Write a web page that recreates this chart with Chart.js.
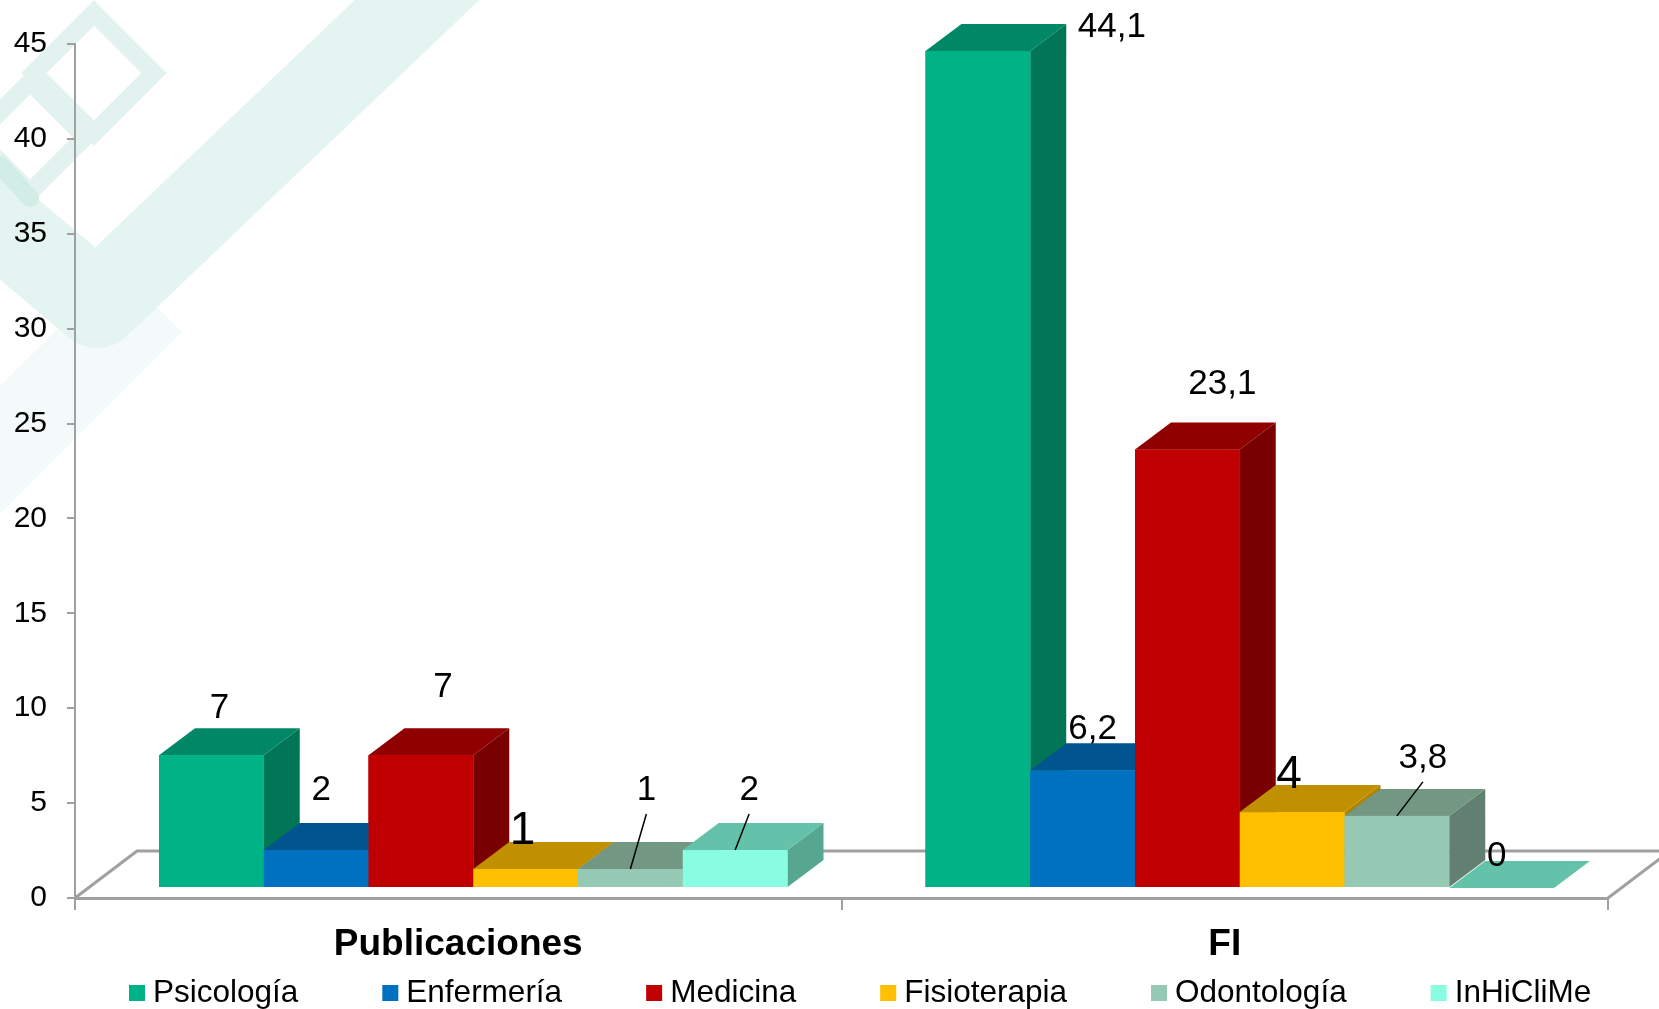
<!DOCTYPE html>
<html>
<head>
<meta charset="utf-8">
<script src="https://cdn.jsdelivr.net/npm/chart.js@4.4.1/dist/chart.umd.min.js"></script>
<style>
  html, body { margin: 0; padding: 0; background: #fff; }
  canvas { display: block; }
</style>
</head>
<body>
<canvas id="chart" width="1659" height="1009"></canvas>
<script>
const categories = ["Publicaciones", "FI"];
const seriesNames = ["Psicología", "Enfermería", "Medicina", "Fisioterapia", "Odontología", "InHiCliMe"];
const psicologia = [7, 44.1];
const enfermeria = [2, 6.2];
const medicina = [7, 23.1];
const fisioterapia = [1, 4];
const odontologia = [1, 3.8];
const inhiclime = [2, 0];
const yMin = 0, yMax = 45, yStep = 5;

const seriesValues = [psicologia, enfermeria, medicina, fisioterapia, odontologia, inhiclime];

// front / top / side colours of each 3D column
const frontColors = ["#00B386", "#0070C0", "#C00000", "#FFC000", "#96C9B3", "#88FDE1"];
const topColors   = ["#008866", "#00558F", "#900000", "#C09000", "#729884", "#64C2AA"];
const sideColors  = ["#007656", "#004A7E", "#780000", "#B08400", "#628071", "#56A690"];

const FONT = '"Liberation Sans", Arial, sans-serif';
const DEPTH = { x: 36, y: -27 };     // column depth
const FLOOR = { x: 62, y: -47 };     // floor depth
const SHIFT = { x: 15, y: -10 };     // columns sit a bit behind the front edge

// manual label placement relative to the back edge of each column top
const labelNudge = [
  [[-10, -20], [116, 3]],
  [[-13, -33], [-8, -14]],
  [[4, -41], [17, -38]],
  [[-21, -11], [-21, -10]],
  [[-2, -52], [8, -31]],
  [[-4, -33], [-23, -5]]
];
const labelLeader = [
  [false, false], [false, false], [false, false],
  [false, false], [true, true], [true, false]
];
const labelSize = [35, 35, 35, 46, 35, 35];

const fmt = v => String(v).replace(".", ",");

const decoration = {
  id: "decoration",
  beforeDraw(chart) {
    const ctx = chart.ctx;
    ctx.save();
    ctx.fillStyle = "#fff";
    ctx.fillRect(0, 0, chart.width, chart.height);
    // faint band lower left
    ctx.lineCap = "butt";
    ctx.strokeStyle = "rgba(0,150,120,0.045)";
    ctx.lineWidth = 90;
    ctx.beginPath();
    ctx.moveTo(150, 300);
    ctx.lineTo(-70, 520);
    ctx.stroke();
    // check mark
    ctx.lineCap = "round";
    ctx.lineJoin = "round";
    ctx.lineWidth = 86;
    ctx.strokeStyle = "#E4F4F0";
    ctx.beginPath();
    ctx.moveTo(-70, 165);
    ctx.lineTo(97, 305);
    ctx.lineTo(480, -60);
    ctx.stroke();
    // diamonds
    ctx.lineCap = "butt";
    ctx.lineJoin = "miter";
    ctx.lineWidth = 18;
    ctx.strokeStyle = "#E2F3EF";
    [[94, 73, 60], [30, 137, 55]].forEach(([cx, cy, r]) => {
      ctx.beginPath();
      ctx.moveTo(cx, cy - r);
      ctx.lineTo(cx + r, cy);
      ctx.lineTo(cx, cy + r);
      ctx.lineTo(cx - r, cy);
      ctx.closePath();
      ctx.stroke();
    });
    ctx.strokeStyle = "#D2EDE6";
    ctx.lineCap = "round";
    ctx.beginPath();
    ctx.moveTo(0, 165);
    ctx.lineTo(30, 198);
    ctx.stroke();
    ctx.restore();
  }
};

const bars3d = {
  id: "bars3d",
  beforeDatasetsDraw(chart) {
    const { ctx, chartArea } = chart;
    const y0 = chart.scales.y.getPixelForValue(0);
    const l = chartArea.left, r = chartArea.right;
    ctx.save();
    ctx.strokeStyle = "#A0A0A0";
    ctx.lineWidth = 3;
    ctx.beginPath();
    ctx.moveTo(l, y0);
    ctx.lineTo(l + FLOOR.x, y0 + FLOOR.y);
    ctx.lineTo(r + FLOOR.x, y0 + FLOOR.y);
    ctx.moveTo(r, y0);
    ctx.lineTo(r + FLOOR.x, y0 + FLOOR.y);
    ctx.stroke();
    ctx.restore();
    ctx.save();
    ctx.translate(SHIFT.x, SHIFT.y);
  },
  afterDatasetsDraw(chart) {
    const ctx = chart.ctx;
    categories.forEach((c, j) => {
      chart.data.datasets.forEach((ds, i) => {
        const el = chart.getDatasetMeta(i).data[j];
        const left = el.x - el.width / 2, right = el.x + el.width / 2;
        const top = Math.min(el.y, el.base), base = Math.max(el.y, el.base);
        if (base - top > 0.5) {
          ctx.fillStyle = sideColors[i];
          ctx.beginPath();
          ctx.moveTo(right, top);
          ctx.lineTo(right + DEPTH.x, top + DEPTH.y);
          ctx.lineTo(right + DEPTH.x, base + DEPTH.y);
          ctx.lineTo(right, base);
          ctx.closePath();
          ctx.fill();
        }
        ctx.fillStyle = topColors[i];
        ctx.beginPath();
        ctx.moveTo(left, top);
        ctx.lineTo(left + DEPTH.x, top + DEPTH.y);
        ctx.lineTo(right + DEPTH.x, top + DEPTH.y);
        ctx.lineTo(right, top);
        ctx.closePath();
        ctx.fill();
        ctx.fillStyle = frontColors[i];
        ctx.fillRect(left, top, right - left, base - top);
      });
    });
    ctx.restore();
  },
  afterDraw(chart) {
    const ctx = chart.ctx;
    ctx.save();
    ctx.fillStyle = "#000";
    ctx.strokeStyle = "#000";
    ctx.lineWidth = 1.5;
    ctx.textAlign = "center";
    ctx.textBaseline = "middle";
    chart.data.datasets.forEach((ds, i) => {
      chart.getDatasetMeta(i).data.forEach((el, j) => {
        const cx = el.x + SHIFT.x;
        const top = Math.min(el.y, el.base) + SHIFT.y;
        const ax = cx + DEPTH.x / 2, ay = top + DEPTH.y;
        const lx = ax + labelNudge[i][j][0], ly = ay + labelNudge[i][j][1];
        ctx.font = labelSize[i] + "px " + FONT;
        ctx.fillText(fmt(ds.data[j]), lx, ly);
        if (labelLeader[i][j]) {
          ctx.beginPath();
          ctx.moveTo(lx, ly + 24);
          ctx.lineTo(cx, top);
          ctx.stroke();
        }
      });
    });
    // legend
    ctx.font = "31.5px " + FONT;
    ctx.textAlign = "left";
    let x = 129;
    const y = 993;
    chart.data.datasets.forEach((ds, i) => {
      ctx.fillStyle = frontColors[i];
      ctx.fillRect(x, y - 8, 16, 16);
      ctx.fillStyle = "#000";
      ctx.fillText(ds.label, x + 24, y);
      x += 16 + 8 + ctx.measureText(ds.label).width + 84;
    });
    ctx.restore();
  }
};

const datasets = seriesNames.map((name, i) => ({
  label: name,
  data: seriesValues[i],
  backgroundColor: frontColors[i],
  borderWidth: 0,
  categoryPercentage: 0.82,
  barPercentage: 1,
  clip: false
}));

new Chart(document.getElementById("chart"), {
  type: "bar",
  data: { labels: categories, datasets },
  options: {
    responsive: false,
    animation: false,
    devicePixelRatio: 1,
    layout: { padding: { top: 44, right: 51, bottom: 0, left: 0 } },
    plugins: { legend: { display: false }, tooltip: { enabled: false } },
    scales: {
      x: {
        offset: true,
        grid: { offset: true, drawOnChartArea: false, tickLength: 12, color: "#A0A0A0", lineWidth: 2 },
        border: { color: "#A0A0A0", width: 3 },
        ticks: { color: "#000", padding: 13, font: { family: FONT, size: 37, weight: "bold" } },
        afterFit: s => { s.height = 111; }
      },
      y: {
        min: yMin,
        max: yMax,
        grid: { drawOnChartArea: false, tickLength: 8, color: "#A0A0A0", lineWidth: 2 },
        border: { color: "#A0A0A0", width: 2 },
        ticks: { stepSize: yStep, color: "#000", padding: 20, font: { family: FONT, size: 30 } },
        afterFit: s => { s.width = 75; }
      }
    }
  },
  plugins: [decoration, bars3d]
});
</script>
</body>
</html>
